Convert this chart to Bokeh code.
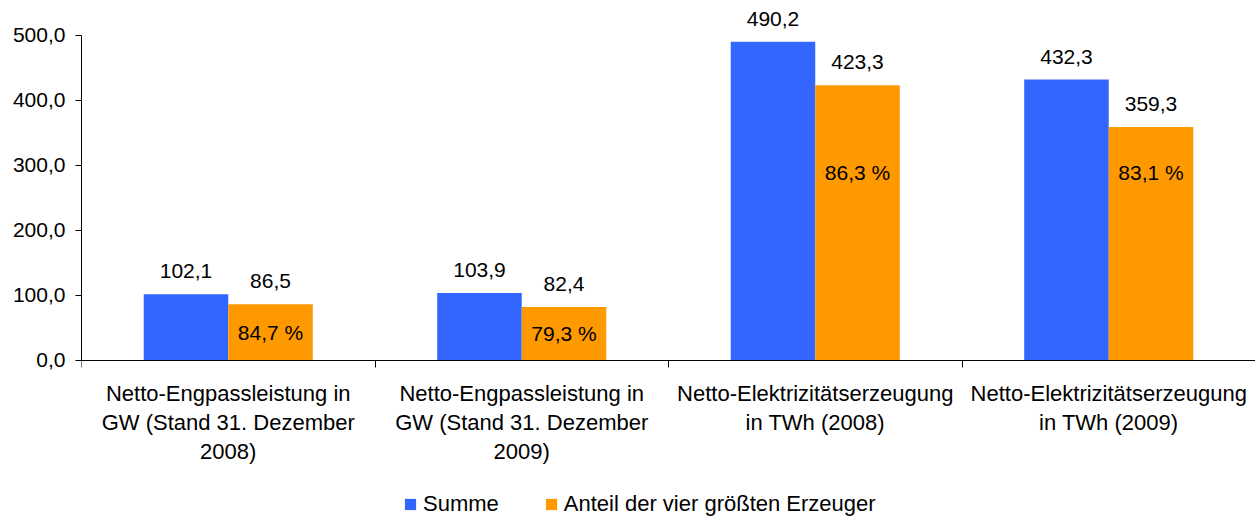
from bokeh.plotting import figure
from bokeh.models import Range1d, FixedTicker, Legend, LegendItem, LabelSet, ColumnDataSource
from bokeh.core.properties import value
from bokeh.embed import file_html
from bokeh.resources import INLINE

categories = ["Netto-Engpassleistung in\nGW (Stand 31. Dezember\n2008)",
              "Netto-Engpassleistung in\nGW (Stand 31. Dezember\n2009)",
              "Netto-Elektrizitätserzeugung\nin TWh (2008)",
              "Netto-Elektrizitätserzeugung\nin TWh (2009)"]
summe = [102.1, 103.9, 490.2, 432.3]
anteil = [86.5, 82.4, 423.3, 359.3]
anteil_pct = ["84,7 %", "79,3 %", "86,3 %", "83,1 %"]
pct_label_y = [43.3, 41.2, 289.0, 289.0]
y_ticks = [0, 100, 200, 300, 400, 500]

BLUE = "#3366FF"
ORANGE = "#FF9900"
FONT = "Liberation Sans"
FS = "21px"
BW = 0.288

def fmt(v):
    return f"{v:.1f}".replace(".", ",")

idx = list(range(len(categories)))
src = ColumnDataSource(dict(
    xb=[i + 0.5 - BW / 2 for i in idx],
    xo=[i + 0.5 + BW / 2 for i in idx],
    summe=summe, anteil=anteil,
    ls=[fmt(v) for v in summe], la=[fmt(v) for v in anteil],
    pct=anteil_pct, pcty=pct_label_y,
))

p = figure(frame_width=1174, frame_height=508, output_backend="svg", toolbar_location=None,
           x_range=Range1d(0, len(categories)), y_range=Range1d(-241.54, 540),
           min_border_left=81, min_border_right=0, min_border_top=9, min_border_bottom=0)
p.outline_line_color = None
p.grid.visible = False
p.background_fill_color = "white"
p.border_fill_color = "white"

rb = p.vbar(x="xb", top="summe", bottom=0, width=BW, source=src, fill_color=BLUE, line_color=None)
ro = p.vbar(x="xo", top="anteil", bottom=0, width=BW, source=src, fill_color=ORANGE, line_color=None)

for xcol, ycol, tcol in (("xb", "summe", "ls"), ("xo", "anteil", "la")):
    p.add_layout(LabelSet(x=xcol, y=ycol, text=tcol, source=src, y_offset=16,
                          text_align="center", text_baseline="alphabetic",
                          text_font=value(FONT), text_font_size=value(FS), text_color="black"))
p.add_layout(LabelSet(x="xo", y="pcty", text="pct", source=src,
                      text_align="center", text_baseline="middle",
                      text_font=value(FONT), text_font_size=value(FS), text_color="black"))

# y axis
ya = p.yaxis[0]
ya.bounds = (0, 500)
ya.ticker = FixedTicker(ticks=y_ticks, minor_ticks=[])
ya.major_label_overrides = {t: fmt(t) for t in y_ticks}
ya.major_tick_out = 6
ya.major_tick_in = 0
ya.minor_tick_out = 0
ya.minor_tick_in = 0
ya.major_label_standoff = 10
ya.major_label_text_font = FONT
ya.major_label_text_font_size = FS
ya.major_label_text_color = "black"
ya.axis_line_color = "black"
ya.major_tick_line_color = "black"

# x axis, drawn at y = 0
xa = p.xaxis[0]
xa.fixed_location = 0
xa.ticker = FixedTicker(ticks=[i + 0.5 for i in idx], minor_ticks=list(range(len(categories) + 1)))
xa.major_label_overrides = {i + 0.5: c for i, c in enumerate(categories)}
xa.major_tick_out = 0
xa.major_tick_in = 0
xa.minor_tick_out = 7
xa.minor_tick_in = 0
xa.minor_tick_line_color = "black"
xa.major_label_standoff = 14
xa.major_label_text_font = FONT
xa.major_label_text_font_size = "22px"
xa.major_label_text_color = "black"
xa.major_label_text_line_height = 1.15
xa.axis_line_color = "black"

legend = Legend(items=[LegendItem(label="Summe", renderers=[rb]),
                       LegendItem(label="Anteil der vier größten Erzeuger", renderers=[ro])],
                orientation="horizontal", location=(322, 0),
                glyph_width=14, glyph_height=14, label_text_font=FONT,
                label_text_font_size="22px", label_text_color="black",
                border_line_color=None, background_fill_alpha=0,
                spacing=45, padding=0, margin=0, label_standoff=6)
p.add_layout(legend, "center")

open("out.html", "w").write(file_html(p, INLINE))
